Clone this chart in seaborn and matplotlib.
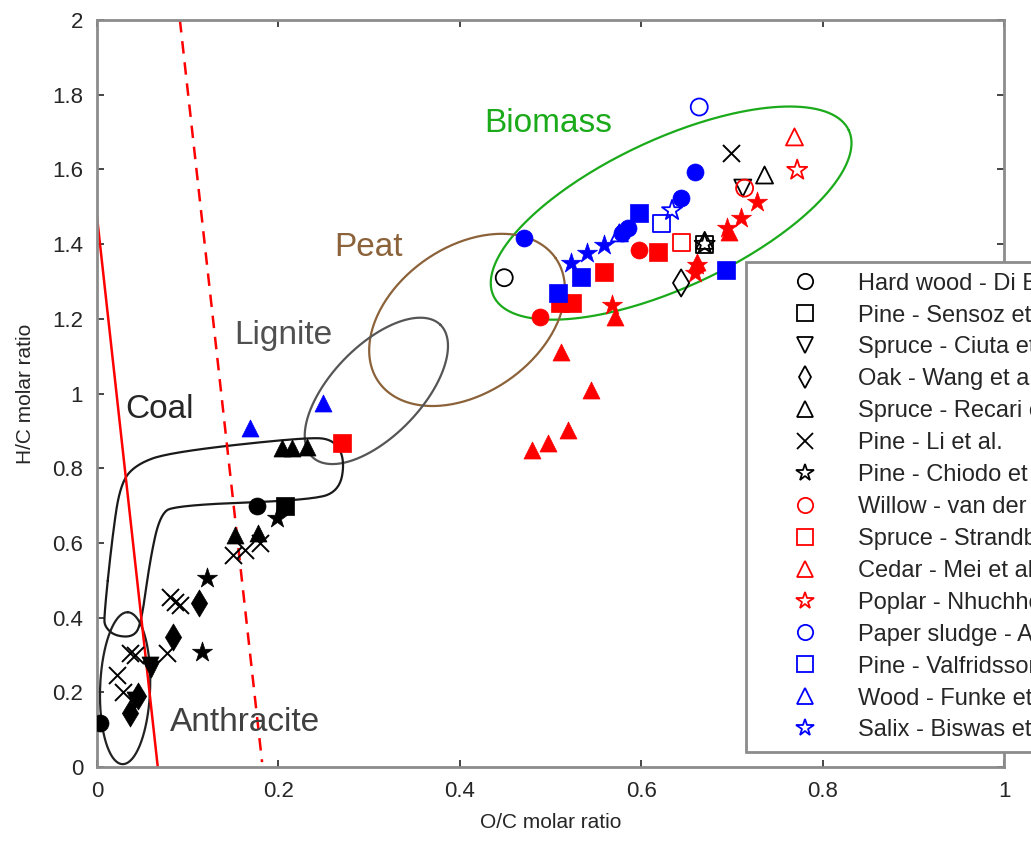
import numpy as np
import pandas as pd
import matplotlib.pyplot as plt
import seaborn as sns
from matplotlib.lines import Line2D

sns.set_style("ticks")
plt.rcParams['font.family'] = ['Liberation Sans', 'DejaVu Sans']

# --- data: one entry per literature source ---
labels = [
    "Hard wood - Di Blasi et al.", "Pine - Sensoz et al.", "Spruce - Ciuta et al.",
    "Oak - Wang et al.", "Spruce - Recari et al.", "Pine - Li et al.",
    "Pine - Chiodo et al.", "Willow - van der Stelt et al.", "Spruce - Strandberg et al.",
    "Cedar - Mei et al.", "Poplar - Nhuchhen et al.", "Paper sludge - Atienza et al.",
    "Pine - Valfridsson et al.", "Wood - Funke et al.", "Salix - Biswas et al.",
]
colors = ["k"] * 7 + ["#ff0000"] * 4 + ["#0000ff"] * 4
markers = ["o", "s", "v", "d", "^", "x", "*", "o", "s", "^", "*", "o", "s", "^", "*"]

# raw biomass (open markers)
raw_oc = [[0.449], [0.670], [0.712], [0.644], [0.736, 0.670], [0.699], [0.670],
          [0.714], [0.644], [0.769], [0.772], [0.664], [0.622], [0.576], [0.634]]
raw_hc = [[1.310], [1.400], [1.550], [1.296], [1.585, 1.410], [1.644], [1.400],
          [1.550], [1.405], [1.687], [1.598], [1.767], [1.456], [1.430], [1.490]]

# treated samples (filled markers)
treated_oc = [
    [0.003, 0.176],
    [0.207],
    [0.058, 0.060, 0.042],
    [0.113, 0.084, 0.036, 0.045],
    [0.204, 0.215, 0.231, 0.152, 0.177],
    [0.022, 0.029, 0.036, 0.042, 0.077, 0.080, 0.086, 0.091, 0.150, 0.163, 0.180],
    [0.121, 0.116, 0.199],
    [0.488, 0.598],
    [0.618, 0.559, 0.524, 0.510, 0.270],
    [0.571, 0.662, 0.697, 0.512, 0.545, 0.519, 0.497, 0.480],
    [0.728, 0.710, 0.695, 0.659, 0.568, 0.662],
    [0.659, 0.644, 0.585, 0.471, 0.579],
    [0.598, 0.534, 0.508, 0.694],
    [0.169, 0.249],
    [0.523, 0.540, 0.559],
]
treated_hc = [
    [0.118, 0.700],
    [0.698],
    [0.273, 0.262, 0.179],
    [0.439, 0.348, 0.145, 0.190],
    [0.854, 0.854, 0.857, 0.620, 0.627],
    [0.247, 0.200, 0.305, 0.300, 0.305, 0.455, 0.442, 0.434, 0.568, 0.581, 0.600],
    [0.506, 0.308, 0.667],
    [1.205, 1.384],
    [1.378, 1.325, 1.241, 1.243, 0.867],
    [1.205, 1.352, 1.432, 1.111, 1.010, 0.902, 0.867, 0.849],
    [1.513, 1.470, 1.443, 1.322, 1.237, 1.345],
    [1.593, 1.523, 1.443, 1.416, 1.430],
    [1.483, 1.312, 1.269, 1.331],
    [0.908, 0.974],
    [1.349, 1.376, 1.397],
]

# fuel regions: center (O/C, H/C), semi-axes (px), angle (deg), colour
region_center = [(0.633, 1.483), (0.408, 1.197), (0.308, 1.007), (0.031, 0.211)]
region_axes = [(196, 74), (108, 73), (92, 45), (76, 25)]
region_angle = [25, 35, 46, 88]
region_color = ["#1aaa1a", "#8b6239", "#555555", "#222222"]

# coal band outline (O/C, H/C)
coal_outline = [
    (0.0077, 0.402), (0.0165, 0.608), (0.0253, 0.755), (0.0419, 0.809),
    (0.0804, 0.843), (0.2346, 0.884), (0.2621, 0.875), (0.2731, 0.822),
    (0.2676, 0.742), (0.2401, 0.715), (0.0859, 0.701), (0.0694, 0.675),
    (0.0584, 0.554), (0.0485, 0.380), (0.0396, 0.348), (0.0198, 0.351),
    (0.0088, 0.375),
]

# red boundary lines
solid_line_oc, solid_line_hc = [0.0, 0.067], [1.473, 0.0]
dashed_line_oc, dashed_line_hc = [0.0914, 0.182], [2.0, 0.013]

# region labels
text_labels = ["Biomass", "Peat", "Lignite", "Coal", "Anthracite"]
text_oc = [0.427, 0.262, 0.151, 0.031, 0.080]
text_hc = [1.724, 1.390, 1.154, 0.956, 0.120]
text_colors = ["#1aaa1a", "#8b6239", "#505050", "#262626", "#404040"]

rows = []
for i, lab in enumerate(labels):
    for x, y in zip(raw_oc[i], raw_hc[i]):
        rows.append((lab, x, y, False))
    for x, y in zip(treated_oc[i], treated_hc[i]):
        rows.append((lab, x, y, True))
df = pd.DataFrame(rows, columns=["source", "OC", "HC", "filled"])


def chaikin(pts, n=4):
    pts = np.asarray(pts, float)
    for _ in range(n):
        p = np.vstack([pts, pts[:1]])
        q = 0.75 * p[:-1] + 0.25 * p[1:]
        r = 0.25 * p[:-1] + 0.75 * p[1:]
        out = np.empty((2 * len(q), 2))
        out[0::2] = q
        out[1::2] = r
        pts = out
    return np.vstack([pts, pts[:1]])


fig = plt.figure(figsize=(10.31, 8.44), dpi=100)
ax = fig.add_axes([97 / 1031, 77 / 844, 907 / 1031, 747 / 844])
ax.set_xlim(0, 1)
ax.set_ylim(0, 2)

# pixel per data unit, so the ellipses keep their on-screen shape
sx = 10.31 * 100 * ax.get_position().width
sy = 8.44 * 100 * ax.get_position().height / 2.0

t = np.linspace(0, 2 * np.pi, 300)
for (cx, cy), (a, b), ang, col in zip(region_center, region_axes, region_angle, region_color):
    th = np.deg2rad(ang)
    ex = a * np.cos(t) * np.cos(th) - b * np.sin(t) * np.sin(th)
    ey = a * np.cos(t) * np.sin(th) + b * np.sin(t) * np.cos(th)
    ax.plot(cx + ex / sx, cy + ey / sy, color=col, lw=1.6, zorder=2)

coal = chaikin(coal_outline)
ax.plot(coal[:, 0], coal[:, 1], color="#1a1a1a", lw=1.6, zorder=2)

ax.plot(solid_line_oc, solid_line_hc, color="#ff0000", lw=1.8, zorder=2)
ax.plot(dashed_line_oc, dashed_line_hc, color="#ff0000", lw=1.8, ls=(0, (5, 3.5)), zorder=2)

for i, lab in enumerate(labels):
    m, c = markers[i], colors[i]
    size = 230 if m == "*" else (190 if m == "d" else 150)
    sub = df[df.source == lab]
    filled = sub[sub.filled]
    raw = sub[~sub.filled]
    if m == "x":
        sns.scatterplot(data=sub, x="OC", y="HC", marker=m, color=c, s=size,
                        linewidth=1.4, ax=ax, zorder=3, legend=False)
        continue
    sns.scatterplot(data=filled, x="OC", y="HC", marker=m, color=c, edgecolor=c,
                    s=size, linewidth=0.5, ax=ax, zorder=3, legend=False)
    sns.scatterplot(data=raw, x="OC", y="HC", marker=m, facecolor="none", edgecolor=c,
                    s=size, linewidth=1.3, ax=ax, zorder=4, legend=False)

for lab, x, y, c in zip(text_labels, text_oc, text_hc, text_colors):
    ax.text(x, y, lab, color=c, fontsize=24, va="center", ha="left", zorder=5)

ax.set_xticks([0, 0.2, 0.4, 0.6, 0.8, 1])
ax.set_xticklabels(["0", "0.2", "0.4", "0.6", "0.8", "1"])
ax.set_yticks(np.arange(0, 2.01, 0.2))
ax.set_yticklabels(["0", "0.2", "0.4", "0.6", "0.8", "1", "1.2", "1.4", "1.6", "1.8", "2"])
ax.tick_params(direction="in", length=5, width=1.2, colors="#262626", labelsize=16,
               top=True, right=True, pad=10)
for sp in ax.spines.values():
    sp.set_color("#8c8c8c")
    sp.set_linewidth(2)
ax.set_xlabel("O/C molar ratio", fontsize=15, color="#262626", labelpad=8)
ax.set_ylabel("H/C molar ratio", fontsize=15, color="#262626", labelpad=12)

handles = [
    Line2D([], [], ls="none", marker=m, markersize=(13 if m == "*" else 11),
           markerfacecolor="none", markeredgecolor=c, markeredgewidth=1.3, color=c)
    for m, c in zip(markers, colors)
]
leg = ax.legend(handles, labels, loc="upper left", bbox_to_anchor=(0.716, 0.676),
                borderaxespad=0, fontsize=17, frameon=True, fancybox=False,
                handlelength=4.08, handletextpad=0.2, labelspacing=0.42,
                borderpad=0.45, framealpha=1)
leg.get_frame().set_edgecolor("#8c8c8c")
leg.get_frame().set_linewidth(2)
leg.set_zorder(10)

fig.savefig("out.png", dpi=100)
